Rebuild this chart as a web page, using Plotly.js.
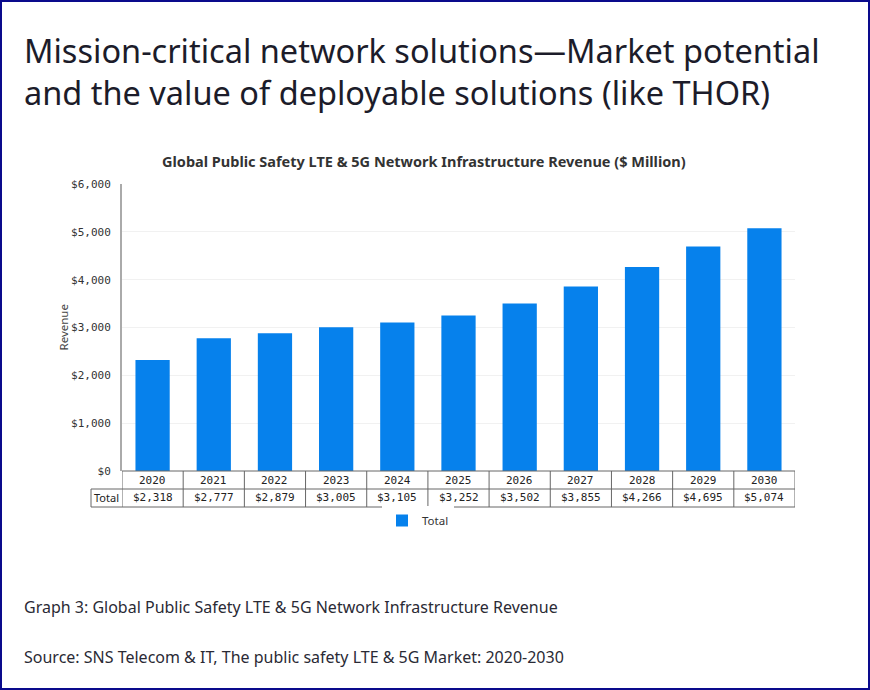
<!DOCTYPE html>
<html>
<head>
<meta charset="utf-8">
<script src="https://cdn.plot.ly/plotly-3.0.1.min.js"></script>
<style>
  body { margin: 0; background: #fff; }
  #plot { position: absolute; left: 0; top: 0; width: 870px; height: 690px; }
  #frame { position: absolute; left: 0; top: 0; width: 870px; height: 690px;
           box-sizing: border-box; border: 2px solid #0a0a8c; pointer-events: none; }
</style>
</head>
<body>
<div id="plot"></div>
<div id="frame"></div>
<script>
var years = ['2020', '2021', '2022', '2023', '2024', '2025', '2026', '2027', '2028', '2029', '2030'];
var revenue = [2318, 2777, 2879, 3005, 3105, 3252, 3502, 3855, 4266, 4695, 5074];
var seriesName = 'Total';
var heading = ['Mission-critical network solutions\u2014Market potential',
               'and the value of deployable solutions (like THOR)'];
var chartTitle = 'Global Public Safety LTE & 5G Network Infrastructure Revenue ($ Million)';
var caption = 'Graph 3: Global Public Safety LTE & 5G Network Infrastructure Revenue';
var source = 'Source: SNS Telecom & IT, The public safety LTE & 5G Market: 2020-2030';

// plot box in pixels
var L = 122, R = 75, T = 184, B = 219;
var W = 870 - L - R, H = 690 - T - B;
function px(x) { return (x - L) / W; }
function py(y) { return (690 - B - y) / H; }

function money(v) { return '$' + v.toLocaleString('en-US'); }

var mono = 'DejaVu Sans Mono, monospace';
var sans = 'Noto Sans, sans-serif';

var rowTop = py(471), rowMid = py(489), rowBot = py(507);
var tableLeft = px(91);

var annotations = [];
var shapes = [];

// table cells
years.forEach(function (yr, i) {
  annotations.push({ x: i, y: (rowTop + rowMid) / 2, xref: 'x', yref: 'paper', text: yr,
    showarrow: false, xanchor: 'center', yanchor: 'middle', font: { family: mono, size: 11, color: '#222' } });
  annotations.push({ x: i, y: (rowMid + rowBot) / 2, xref: 'x', yref: 'paper', text: money(revenue[i]),
    showarrow: false, xanchor: 'center', yanchor: 'middle', font: { family: mono, size: 11, color: '#222' } });
});
annotations.push({ x: tableLeft / 2, y: (rowMid + rowBot) / 2, xref: 'paper', yref: 'paper',
  text: seriesName, showarrow: false, xanchor: 'center', yanchor: 'middle',
  font: { family: sans, size: 11, color: '#222' } });

// table grid lines
var lineStyle = { color: '#666', width: 1 };
for (var i = 0; i <= years.length; i++) {
  shapes.push({ type: 'line', xref: 'x', yref: 'paper', x0: i - 0.5, x1: i - 0.5,
    y0: rowTop, y1: rowBot, line: lineStyle });
}
shapes.push({ type: 'line', xref: 'paper', yref: 'paper', x0: 0, x1: 1, y0: rowTop, y1: rowTop, line: lineStyle });
shapes.push({ type: 'line', xref: 'paper', yref: 'paper', x0: tableLeft, x1: 1, y0: rowMid, y1: rowMid, line: lineStyle });
shapes.push({ type: 'line', xref: 'paper', yref: 'paper', x0: tableLeft, x1: 1, y0: rowBot, y1: rowBot, line: lineStyle });
shapes.push({ type: 'line', xref: 'paper', yref: 'paper', x0: tableLeft, x1: tableLeft, y0: rowMid, y1: rowBot, line: lineStyle });

// heading, chart title, captions
annotations.push({ x: px(22), y: py(50), xref: 'paper', yref: 'paper', text: heading[0], showarrow: false,
  xanchor: 'left', yanchor: 'middle', font: { family: sans, size: 32.5, color: '#1c1c2a' } });
annotations.push({ x: px(22), y: py(93), xref: 'paper', yref: 'paper', text: heading[1], showarrow: false,
  xanchor: 'left', yanchor: 'middle', font: { family: sans, size: 32.5, color: '#1c1c2a' } });
annotations.push({ x: px(424), y: py(161), xref: 'paper', yref: 'paper', text: '<b>' + chartTitle + '</b>',
  showarrow: false, xanchor: 'center', yanchor: 'middle', font: { family: sans, size: 14.5, color: '#333' } });
annotations.push({ x: px(22), y: py(607), xref: 'paper', yref: 'paper', text: caption, showarrow: false,
  xanchor: 'left', yanchor: 'middle', font: { family: sans, size: 16, color: '#2a2a35' } });
annotations.push({ x: px(22), y: py(657), xref: 'paper', yref: 'paper', text: source, showarrow: false,
  xanchor: 'left', yanchor: 'middle', font: { family: sans, size: 16, color: '#2a2a35' } });
annotations.push({ x: px(63), y: 0.5, xref: 'paper', yref: 'paper', text: 'Revenue', textangle: -90,
  showarrow: false, xanchor: 'center', yanchor: 'middle', font: { family: sans, size: 11.5, color: '#444' } });

var data = [{
  type: 'bar',
  x: years,
  y: revenue,
  name: seriesName,
  marker: { color: '#0681ec' },
  hoverinfo: 'x+y'
}];

var layout = {
  width: 870,
  height: 690,
  margin: { l: L, r: R, t: T, b: B },
  paper_bgcolor: '#fff',
  plot_bgcolor: '#fff',
  bargap: 0.44,
  showlegend: true,
  legend: { orientation: 'h', x: px(382), y: py(506), xanchor: 'left', yanchor: 'top',
    font: { family: sans, size: 11.5, color: '#333' }, itemwidth: 30 },
  xaxis: { type: 'category', range: [-0.5, 10.5], showticklabels: false, showgrid: false,
    zeroline: false, showline: false, fixedrange: true },
  yaxis: { range: [0, 6000], dtick: 1000, tickprefix: '$', separatethousands: true, tickformat: ',d',
    showline: true, linecolor: '#aaa', linewidth: 2, gridcolor: '#f1f1f1', zeroline: false,
    ticklabelstandoff: 7, tickfont: { family: mono, size: 11, color: '#333' }, fixedrange: true },
  annotations: annotations,
  shapes: shapes
};

Plotly.newPlot('plot', data, layout, { displayModeBar: false, staticPlot: true });
</script>
</body>
</html>
